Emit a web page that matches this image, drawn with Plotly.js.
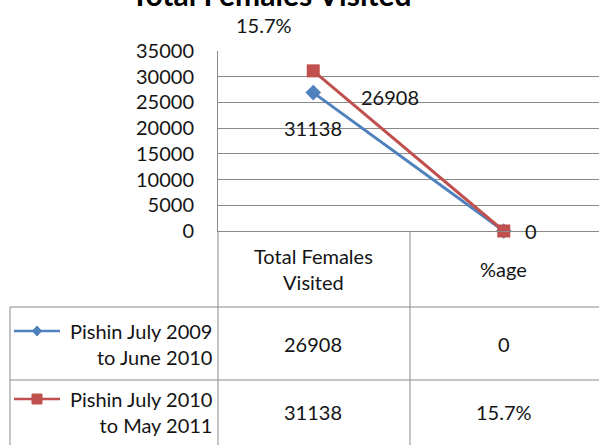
<!DOCTYPE html>
<html>
<head>
<meta charset="utf-8">
<script src="https://cdn.plot.ly/plotly-3.0.1.min.js"></script>
<style>html,body{margin:0;padding:0;background:#fff;}#chart{width:599px;height:445px;}</style>
</head>
<body>
<div id="chart"></div>
<script>
// ---- data ----
const categories = ['Total Females Visited', '%age'];
const headerLabels = ['Total Females<br>Visited', '%age'];
const seriesNames = ['Pishin July 2009<br>to June 2010', 'Pishin July 2010<br>to May 2011'];
const series1Values = [26908, 0];
const series2Values = [31138, 0.157];
const series1Labels = ['26908', '0'];
const series2Labels = ['31138', '15.7%'];
const yTicks = [0, 5000, 10000, 15000, 20000, 25000, 30000, 35000];

// ---- styling / layout helpers ----
const W = 599, H = 445;
const L = 218, T = 51, B = 214;     // plot margins (px)
const PW = W - L, PH = H - T - B;
const px = x => (x - L) / PW;        // pixel -> paper x
const py = y => (H - B - y) / PH;    // pixel -> paper y
const font = 'Lato, "Open Sans", sans-serif';
const txt = '#141414';
const grid = '#8a8a8a';
const blue = '#4F81BD', red = '#C0504D';

const traces = [
  {x: categories, y: series1Values, type: 'scatter', mode: 'lines+markers', name: seriesNames[0],
   line: {color: blue, width: 3}, marker: {symbol: 'diamond', size: 12, color: blue}, cliponaxis: false},
  {x: categories, y: series2Values, type: 'scatter', mode: 'lines+markers', name: seriesNames[1],
   line: {color: red, width: 3}, marker: {symbol: 'square', size: 13, color: red}, cliponaxis: false}
];

const annotations = [];
const fnt = {family: font, size: 20, color: txt};
// data labels (Excel moved them; pixel offsets from their points)
const labelShifts1 = [[77, -4], [27, 0]];
const labelShifts2 = [[0, -57], [-240, 206]];
categories.forEach((c, i) => {
  annotations.push({x: c, y: series1Values[i], xref: 'x', yref: 'y', text: series1Labels[i], showarrow: false,
    xanchor: 'center', yanchor: 'middle', xshift: labelShifts1[i][0], yshift: labelShifts1[i][1], font: fnt});
  annotations.push({x: c, y: series2Values[i], xref: 'x', yref: 'y', text: series2Labels[i], showarrow: false,
    xanchor: 'center', yanchor: 'middle', xshift: labelShifts2[i][0], yshift: labelShifts2[i][1], font: fnt});
});
// table header
categories.forEach((c, i) => {
  annotations.push({x: c, xref: 'x', y: py(269), yref: 'paper', xanchor: 'center', yanchor: 'middle',
    text: headerLabels[i], showarrow: false, font: fnt, align: 'center'});
});
// table rows
const rowCenters = [344, 412];
const rowValues = [series1Labels, series2Labels];
rowCenters.forEach((yc, r) => {
  annotations.push({x: px(214), xref: 'paper', xanchor: 'right', y: py(yc), yref: 'paper', yanchor: 'middle',
    text: seriesNames[r], showarrow: false, align: 'right', font: fnt});
  categories.forEach((c, i) => {
    annotations.push({x: c, xref: 'x', y: py(yc), yref: 'paper', xanchor: 'center', yanchor: 'middle',
      text: rowValues[r][i], showarrow: false, font: fnt});
  });
});
// title (cut off at the top, as in the source image)
annotations.push({x: px(271), xref: 'paper', y: py(-6), yref: 'paper', xanchor: 'center', yanchor: 'middle',
  text: '<b>Total Females Visited</b>', showarrow: false, font: {family: font, size: 30, color: '#000'}});

const ln = (x0, y0, x1, y1, color, width) => ({type: 'line', xref: 'paper', yref: 'paper',
  x0: px(x0), y0: py(y0), x1: px(x1), y1: py(y1), line: {color: color || grid, width: width || 1}});
const shapes = [
  ln(10, 307, 599, 307), ln(10, 380, 599, 380),
  ln(10, 307, 10, 445), ln(L, 231, L, 445), ln(410, 231, 410, 445),
  // legend keys
  ln(14, 331, 60, 331, blue, 2.5), ln(14, 399, 60, 399, red, 2.5),
  {type: 'path', xref: 'paper', yref: 'paper', fillcolor: blue, line: {color: blue, width: 1},
   path: `M ${px(37)},${py(326)} L ${px(41.5)},${py(331)} L ${px(37)},${py(336)} L ${px(32.5)},${py(331)} Z`},
  {type: 'rect', xref: 'paper', yref: 'paper', fillcolor: red, line: {color: red, width: 1},
   x0: px(32), x1: px(42), y0: py(394), y1: py(404)}
];

const layout = {
  width: W, height: H,
  margin: {l: L, r: 0, t: T, b: B, pad: 0},
  paper_bgcolor: '#fff', plot_bgcolor: '#fff',
  showlegend: false,
  xaxis: {type: 'category', range: [-0.5, 1.5], showticklabels: false, showgrid: false, zeroline: false,
          showline: true, linecolor: grid, linewidth: 1, ticks: '', fixedrange: true},
  yaxis: {range: [0, 35000], tickvals: yTicks, tickformat: 'd', showgrid: true, gridcolor: grid, gridwidth: 1,
          zeroline: false, showline: true, linecolor: grid, linewidth: 1, ticks: '', ticklabelstandoff: 19,
          tickfont: fnt, fixedrange: true},
  annotations: annotations,
  shapes: shapes
};

Plotly.newPlot('chart', traces, layout, {displayModeBar: false, staticPlot: true});
</script>
</body>
</html>
